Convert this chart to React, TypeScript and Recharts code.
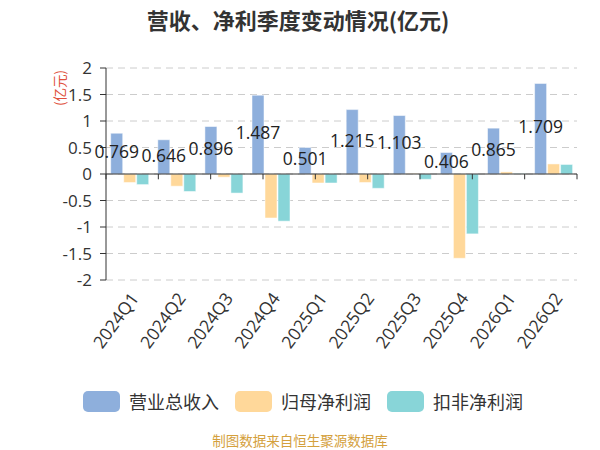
import React from "react";
import { BarChart, Bar, XAxis, YAxis, CartesianGrid, ReferenceLine, LabelList } from "recharts";

const categories = ["2024Q1", "2024Q2", "2024Q3", "2024Q4", "2025Q1", "2025Q2", "2025Q3", "2025Q4", "2026Q1", "2026Q2"];
const revenue = [0.769, 0.646, 0.896, 1.487, 0.501, 1.215, 1.103, 0.406, 0.865, 1.709];
const netProfit = [-0.16, -0.23, -0.06, -0.83, -0.17, -0.16, 0.01, -1.59, 0.04, 0.19];
const deductedProfit = [-0.2, -0.33, -0.36, -0.89, -0.17, -0.27, -0.1, -1.13, 0.01, 0.18];
const yTicks = [-2, -1.5, -1, -0.5, 0, 0.5, 1, 1.5, 2];
const seriesNames = ["营业总收入", "归母净利润", "扣非净利润"];
const seriesColors = ["#8eafdc", "#ffd89a", "#88d5d8"];

const data = categories.map((c, i) => ({
  name: c,
  revenue: revenue[i],
  netProfit: netProfit[i],
  deductedProfit: deductedProfit[i],
}));
const boundaries = [...categories.map((_, i) => i), categories.length];

const FONT = "'Open Sans','Noto Sans CJK SC',sans-serif";

export default function App() {
  return (
    <div style={{ position: "absolute", left: 0, top: 0, width: 600, height: 450, background: "#fff", fontFamily: FONT, overflow: "hidden" }}>
      <div style={{ position: "absolute", left: 0, width: 596, top: 3, textAlign: "center", fontSize: 22, fontWeight: "bold", color: "#333", fontFamily: "'Noto Sans CJK SC',sans-serif" }}>
        营收、净利季度变动情况(亿元)
      </div>
      <div style={{ position: "absolute", left: 59, top: 88, transform: "translate(-50%,-50%) rotate(-90deg)", fontSize: 13.5, color: "#e0503c", whiteSpace: "nowrap", fontFamily: "'Noto Sans CJK SC',sans-serif" }}>
        (亿元)
      </div>
      <BarChart
        width={600}
        height={450}
        data={data}
        margin={{ top: 68, right: 23, left: 56, bottom: 90 }}
        barCategoryGap="10%"
        barGap={1}
        style={{ position: "absolute", left: 0, top: 0 }}
      >
        <CartesianGrid vertical={false} stroke="#ccc" strokeDasharray="7 5" />
        <XAxis
          dataKey="name"
          xAxisId="a"
          axisLine={false}
          tickLine={false}
          interval={0}
          height={80}
          angle={-54}
          textAnchor="end"
          tickMargin={5}
          tick={{ fontSize: 17.5, fill: "#333", fontFamily: FONT }}
        />
        <XAxis xAxisId="b" type="number" domain={[0, categories.length]} hide />
        <YAxis
          width={50}
          domain={[-2, 2]}
          ticks={yTicks}
          interval={0}
          axisLine={{ stroke: "#333" }}
          tickLine={{ stroke: "#333" }}
          tickSize={6}
          tickMargin={8}
          tick={{ fontSize: 17, fill: "#333", fontFamily: FONT }}
        />
        <Bar xAxisId="a" dataKey="revenue" fill={seriesColors[0]} stroke="#fff" strokeOpacity={0.5} isAnimationActive={false}>
          <LabelList dataKey="revenue" position="center" fontSize={17.5} fill="#222" fontFamily={FONT} dy={-1.5} />
        </Bar>
        <Bar xAxisId="a" dataKey="netProfit" fill={seriesColors[1]} stroke="#fff" strokeOpacity={0.5} isAnimationActive={false} />
        <Bar xAxisId="a" dataKey="deductedProfit" fill={seriesColors[2]} stroke="#fff" strokeOpacity={0.5} isAnimationActive={false} />
        <ReferenceLine xAxisId="a" y={0} stroke="#333" strokeWidth={1} />
        {boundaries.map((b) => (
          <ReferenceLine
            key={b}
            xAxisId="b"
            segment={[{ x: b, y: 0 }, { x: b, y: -0.1 }]}
            stroke="#333"
            ifOverflow="visible"
          />
        ))}
      </BarChart>
      <div style={{ position: "absolute", left: 83, top: 391, display: "flex", alignItems: "center", fontFamily: "'Noto Sans CJK SC',sans-serif" }}>
        {seriesNames.map((n, i) => (
          <div key={n} style={{ display: "flex", alignItems: "center", marginRight: i < 2 ? 16 : 0 }}>
            <div style={{ width: 37, height: 21, borderRadius: 5, background: seriesColors[i], marginRight: 9 }} />
            <span style={{ fontSize: 18, color: "#333", lineHeight: "21px" }}>{n}</span>
          </div>
        ))}
      </div>
      <div style={{ position: "absolute", left: 0, width: 600, top: 433, lineHeight: "14px", textAlign: "center", fontSize: 13.5, color: "#d4a03c", fontFamily: "'Noto Sans CJK SC',sans-serif" }}>
        制图数据来自恒生聚源数据库
      </div>
    </div>
  );
}
